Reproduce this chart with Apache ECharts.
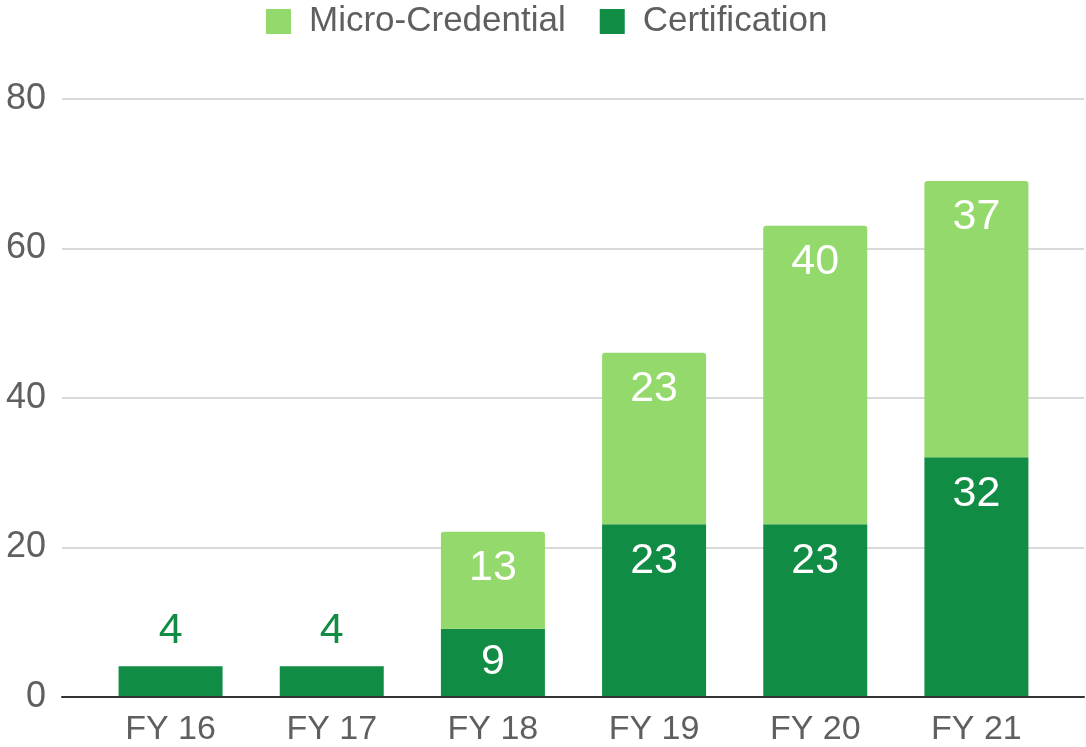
<!DOCTYPE html>
<html><head><meta charset="utf-8">
<script src="https://cdn.jsdelivr.net/npm/echarts@6/dist/echarts.min.js"></script>
<style>html,body{margin:0;padding:0;background:#fff}#c{width:1086px;height:747px}</style>
</head><body><div id="c"></div>
<script>
const categories = ['FY 16','FY 17','FY 18','FY 19','FY 20','FY 21'];
const certification = [4, 4, 9, 23, 23, 32];
const microCredential = [0, 0, 13, 23, 40, 37];
const yTicks = [0, 20, 40, 60, 80];

const LIGHT = '#93d96b', DARK = '#118c45', TXT = '#5f5f5f';
const FONT = '"Liberation Sans", Arial, sans-serif';

const chart = echarts.init(document.getElementById('c'));
const certData = certification.map((v, i) => {
  if (!microCredential[i]) return {value: v, label: {position: 'top', color: DARK, distance: 14}};
  if (v < 12) return {value: v, label: {position: 'inside'}};
  return {value: v};
});
const microData = microCredential.map(v => v ? {value: v} : {value: v, label: {show: false}});

chart.setOption({
  animation: false,
  textStyle: {fontFamily: FONT},
  legend: {
    top: -1, left: 261,
    data: ['Micro-Credential', 'Certification'],
    icon: 'rect', itemWidth: 25, itemHeight: 25, itemGap: 34,
    textStyle: {fontSize: 35, color: TXT, fontFamily: FONT, padding: [0, 0, 0, 13]}
  },
  grid: [
    {left: 62, right: 2, top: 99, bottom: 50, containLabel: false},
    {left: 90, right: 29, top: 99, bottom: 50, containLabel: false}
  ],
  xAxis: [
    {gridIndex: 0, type: 'category', data: categories, axisLine: {show: true, lineStyle: {color: '#333', width: 2}},
     axisTick: {show: false}, axisLabel: {show: false}, splitLine: {show: false}},
    {gridIndex: 1, type: 'category', data: categories, axisLine: {show: false}, axisTick: {show: false},
     axisLabel: {fontSize: 34, color: TXT, margin: 17, fontFamily: FONT}}
  ],
  yAxis: [
    {gridIndex: 0, type: 'value', min: yTicks[0], max: yTicks[yTicks.length-1], interval: 20,
     axisLine: {show: false}, axisTick: {show: false},
     axisLabel: {fontSize: 36, color: TXT, margin: 16, fontFamily: FONT},
     splitLine: {lineStyle: {color: '#cccccc', width: 1.5}}},
    {gridIndex: 1, type: 'value', min: yTicks[0], max: yTicks[yTicks.length-1], interval: 20, show: false}
  ],
  series: [
    {name: 'Certification', type: 'bar', stack: 'a', xAxisIndex: 1, yAxisIndex: 1, barWidth: 104,
     itemStyle: {color: DARK}, data: certData,
     label: {show: true, position: 'insideTop', distance: 15, color: '#fff', fontSize: 43, fontFamily: FONT}},
    {name: 'Micro-Credential', type: 'bar', stack: 'a', xAxisIndex: 1, yAxisIndex: 1, barWidth: 104,
     itemStyle: {color: LIGHT, borderRadius: [3,3,0,0]}, data: microData,
     label: {show: true, position: 'insideTop', distance: 15, color: '#fff', fontSize: 43, fontFamily: FONT}}
  ]
});
</script></body></html>
